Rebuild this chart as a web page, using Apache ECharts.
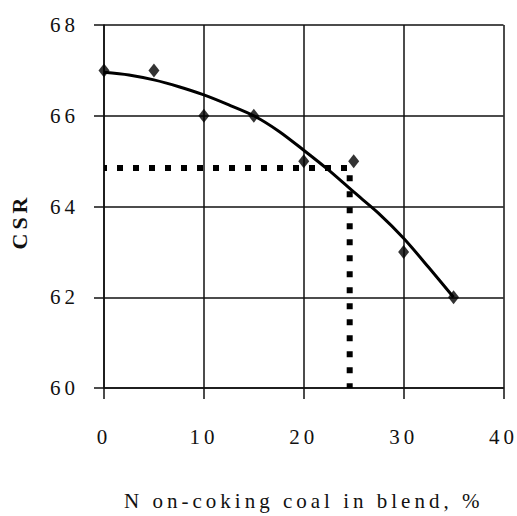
<!DOCTYPE html>
<html>
<head>
<meta charset="utf-8">
<script src="https://cdn.jsdelivr.net/npm/echarts@6/dist/echarts.min.js"></script>
<style>
html, body { margin: 0; padding: 0; background: #fff; }
#chart { width: 517px; height: 516px; }
#chart svg text { letter-spacing: 4px; }
</style>
</head>
<body>
<div id="chart"></div>
<script>
// Measured points: non-coking coal in blend (%) vs CSR
const blendPct = [0, 5, 10, 15, 20, 25, 30, 35];
const csrValues = [67, 67, 66, 66, 65, 65, 63, 62];
// Trend curve
const trendX = [0, 2.5, 5, 7.5, 10, 12.5, 15, 17.5, 20, 22.5, 25, 27.5, 30, 32.5, 35];
const trendY = [66.96, 66.9, 66.79, 66.64, 66.46, 66.24, 66.0, 65.66, 65.24, 64.8, 64.32, 63.85, 63.3, 62.66, 62.0];
// Dotted reading guide
const guideX = [0, 24.6, 24.6];
const guideY = [64.85, 64.85, 60];
const xTicks = [0, 10, 20, 30, 40];
const yTicks = [60, 62, 64, 66, 68];

const chart = echarts.init(document.getElementById('chart'), null, { renderer: 'svg' });
const font = '"Liberation Serif", "Times New Roman", serif';
const zip = (a, b) => a.map((v, i) => [v, b[i]]);
chart.setOption({
  animation: false,
  backgroundColor: '#fff',
  grid: { left: 101, right: 12, top: 25, bottom: 127 },
  xAxis: {
    type: 'value', min: xTicks[0], max: xTicks[xTicks.length - 1], interval: 10,
    name: 'N on-coking coal in blend, %', nameLocation: 'middle', nameGap: 102,
    nameTextStyle: { fontFamily: font, fontSize: 21, color: '#111' },
    axisLine: { show: true, lineStyle: { color: '#111', width: 1.5 } },
    axisTick: { show: true, length: 11, lineStyle: { color: '#111', width: 1.5 } },
    axisLabel: { margin: 38, fontFamily: font, fontSize: 21, color: '#111' },
    splitLine: { show: true, lineStyle: { color: '#111', width: 1.5 } }
  },
  yAxis: {
    type: 'value', min: yTicks[0], max: yTicks[yTicks.length - 1], interval: 2,
    name: 'CSR', nameLocation: 'middle', nameGap: 74, nameRotate: 90,
    nameTextStyle: { fontFamily: font, fontSize: 22, fontWeight: 'bold', color: '#111', padding: [0, 30, 0, 0] },
    axisLine: { show: true, lineStyle: { color: '#111', width: 1.5 } },
    axisTick: { show: true, length: 10, lineStyle: { color: '#111', width: 1.5 } },
    axisLabel: { margin: 25, fontFamily: font, fontSize: 21, color: '#111' },
    splitLine: { show: true, lineStyle: { color: '#111', width: 1.5 } }
  },
  series: [
    {
      type: 'line', data: zip(guideX, guideY), symbol: 'none', z: 3,
      lineStyle: { color: '#000', width: 6, type: [6, 10], dashOffset: 3, cap: 'butt' }
    },
    {
      type: 'line', data: zip(trendX, trendY), symbol: 'none', smooth: 0.3, z: 4,
      lineStyle: { color: '#000', width: 3 }
    },
    {
      type: 'scatter', data: zip(blendPct, csrValues), symbol: 'diamond', symbolSize: [11, 14], z: 5,
      itemStyle: { color: '#000' }
    }
  ]
});
</script>
</body>
</html>
